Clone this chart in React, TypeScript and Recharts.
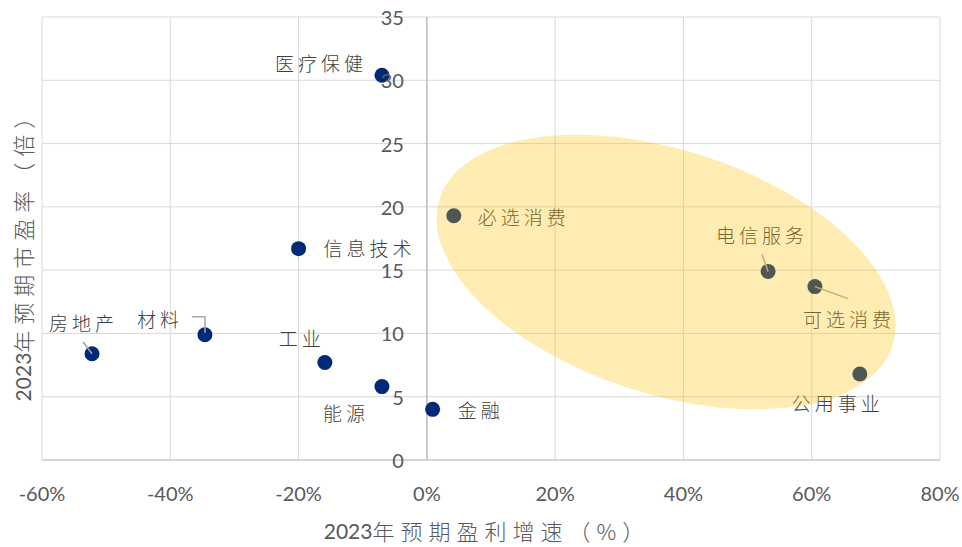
import React from 'react'
import { ScatterChart, Scatter, XAxis, YAxis, CartesianGrid, ReferenceLine } from 'recharts'

// sector -> 2023 expected earnings growth (%) and forward P/E (x)
const sectors = ['医疗保健', '必选消费', '信息技术', '电信服务', '可选消费', '房地产', '材料', '工业', '公用事业', '能源', '金融']
const earningsGrowth = [-7.0, 4.2, -20.0, 53.2, 60.5, -52.2, -34.6, -15.9, 67.5, -7.0, 0.9]
const forwardPe = [30.4, 19.3, 16.7, 14.9, 13.7, 8.4, 9.9, 7.7, 6.8, 5.8, 4.0]

const xTicks = [-60, -40, -20, 0, 20, 40, 60, 80]
const yTicks = [0, 5, 10, 15, 20, 25, 30, 35]

// centre of the highlighted (yellow) zone
const highlightGrowth = [37.3]
const highlightPe = [14.85]

const W = 962
const H = 547
const PLOT_LEFT = 42
const PLOT_RIGHT = 940
const PLOT_TOP = 17
const PLOT_BOTTOM = 460
const X_MIN = -60
const X_MAX = 80
const X_ZERO = PLOT_LEFT + ((PLOT_RIGHT - PLOT_LEFT) * (0 - X_MIN)) / (X_MAX - X_MIN)

const NUM_FONT = "Lato, 'Noto Sans CJK SC', sans-serif"
const CJK_FONT = "'Noto Sans CJK SC', sans-serif"

// label offsets relative to each dot, plus optional leader lines
const labelPlacement: Record<string, { dx: number; dy: number; leader?: number[][] }> = {
  医疗保健: { dx: -107, dy: -13 },
  必选消费: { dx: 24, dy: 1 },
  信息技术: { dx: 25, dy: -1 },
  电信服务: { dx: -52, dy: -37, leader: [[-6, -17], [0, 0]] },
  可选消费: { dx: -12, dy: 32, leader: [[0, 0], [33, 12]] },
  房地产: { dx: -43, dy: -31, leader: [[-9, -12], [0, 0]] },
  材料: { dx: -68, dy: -16, leader: [[-13, -18], [0, -18], [0, -2]] },
  工业: { dx: -46, dy: -25 },
  公用事业: { dx: -68, dy: 29 },
  能源: { dx: -59, dy: 26 },
  金融: { dx: 25, dy: 0 }
}

const sectorPoints = sectors.map((name, i) => ({ name, x: earningsGrowth[i], y: forwardPe[i] }))
const highlightPoints = highlightGrowth.map((g, i) => ({ x: g, y: highlightPe[i] }))

function SectorDot(props: any) {
  const { cx, cy, payload } = props
  const p = labelPlacement[payload.name] || { dx: 14, dy: 0 }
  return (
    <g>
      <circle cx={cx} cy={cy} r={7.5} fill="#002A78" />
      {p.leader && (
        <polyline
          points={p.leader.map(([a, b]) => `${cx + a},${cy + b}`).join(' ')}
          fill="none"
          stroke="#A6A6A6"
          strokeWidth={1.5}
        />
      )}
      <text
        x={cx + p.dx}
        y={cy + p.dy}
        dominantBaseline="central"
        fill="#404040"
        fontSize={19}
        fontWeight={300}
        letterSpacing={4}
        fontFamily={CJK_FONT}
      >
        {payload.name}
      </text>
    </g>
  )
}

function HighlightZone(props: any) {
  const { cx, cy } = props
  return (
    <ellipse
      cx={cx}
      cy={cy}
      rx={238}
      ry={122}
      transform={`rotate(18 ${cx} ${cy})`}
      fill="#FFC000"
      fillOpacity={0.3}
    />
  )
}

function XTick(props: any) {
  const { x, payload } = props
  return (
    <text x={x} y={PLOT_BOTTOM + 33} textAnchor="middle" dominantBaseline="central" fill="#595959" fontSize={20} fontFamily={NUM_FONT}>
      {`${payload.value}%`}
    </text>
  )
}

function YTick(props: any) {
  const { y, payload } = props
  return (
    <text x={X_ZERO - 23} y={y} textAnchor="end" dominantBaseline="central" fill="#595959" fontSize={20} fontFamily={NUM_FONT}>
      {payload.value}
    </text>
  )
}

export default function App() {
  return (
    <div style={{ position: 'absolute', left: 0, top: 0, width: W, height: H, background: '#fff' }}>
      <ScatterChart width={W} height={H} margin={{ top: PLOT_TOP, right: W - PLOT_RIGHT, bottom: 0, left: PLOT_LEFT - 1 }}>
        <CartesianGrid stroke="#D9D9D9" />
        <XAxis
          type="number"
          dataKey="x"
          domain={[X_MIN, X_MAX]}
          ticks={xTicks}
          interval={0}
          height={H - PLOT_BOTTOM}
          axisLine={{ stroke: '#BFBFBF' }}
          tickLine={false}
          tick={(p: any) => <XTick {...p} />}
        />
        <YAxis
          type="number"
          dataKey="y"
          domain={[0, 35]}
          ticks={yTicks}
          interval={0}
          width={1}
          axisLine={false}
          tickLine={false}
          tick={(p: any) => <YTick {...p} />}
        />
        <ReferenceLine x={0} stroke="#BFBFBF" strokeWidth={1.5} />
        <Scatter data={sectorPoints} shape={<SectorDot />} isAnimationActive={false} />
        <Scatter data={highlightPoints} shape={<HighlightZone />} isAnimationActive={false} />
      </ScatterChart>
      <svg width={W} height={H} style={{ position: 'absolute', left: 0, top: 0, pointerEvents: 'none' }}>
        <text x={487} y={530} textAnchor="middle" dominantBaseline="central" fill="#595959" fontSize={21} fontFamily={NUM_FONT}>
          <tspan>2023</tspan>
          <tspan letterSpacing={6} fontSize={22} fontFamily={CJK_FONT} fontWeight={300}>年预期盈利增速（%）</tspan>
        </text>
        <text
          x={22}
          y={251}
          transform="rotate(-90 22 251)"
          textAnchor="middle"
          dominantBaseline="central"
          fill="#595959"
          fontSize={21}
          fontFamily={NUM_FONT}
        >
          <tspan>2023</tspan>
          <tspan letterSpacing={6} fontSize={22} fontFamily={CJK_FONT} fontWeight={300}>年预期市盈率（倍）</tspan>
        </text>
      </svg>
    </div>
  )
}
